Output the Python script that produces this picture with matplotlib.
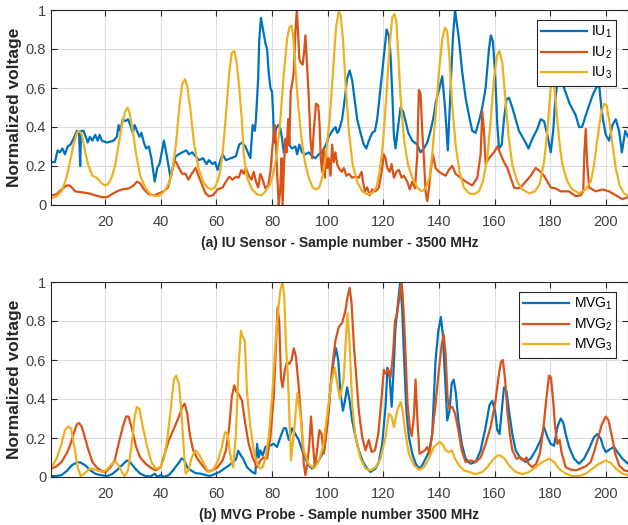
import matplotlib
matplotlib.use("Agg")
import matplotlib.pyplot as plt
from matplotlib import font_manager

# ---------------- data ----------------
iu1_x = [0.7, 1.9, 2.9, 3.7, 4.6, 5.5, 6.5, 7.5, 8.6, 9.8, 10.6, 11.0, 11.3, 12.2, 13.0, 13.7, 14.5, 15.4, 16.4, 17.3, 18.0, 18.8, 20.6, 23.0, 24.2, 24.8, 25.4, 26.3, 27.2, 28.2, 29.0, 29.9, 30.6, 31.4, 32.3, 33.0, 33.9, 34.7, 35.7, 36.6, 37.8, 38.7, 39.5, 40.2, 41.1, 41.9, 42.9, 43.5, 44.3, 45.3, 46.5, 47.7, 49.2, 50.1, 51.3, 52.5, 53.7, 55.2, 56.4, 57.3, 58.6, 59.5, 60.4, 61.2, 62.2, 63.4, 65.2, 67.0, 68.2, 69.2, 70.4, 71.6, 72.2, 73.0, 73.8, 74.2, 75.0, 75.4, 76.0, 76.6, 77.6, 78.2, 78.8, 79.4, 80.0, 80.4, 80.7, 81.4, 82.2, 83.0, 83.6, 84.2, 85.0, 86.0, 87.2, 88.4, 89.0, 89.8, 90.8, 92.0, 93.2, 94.4, 95.6, 96.8, 98.0, 99.4, 100.4, 101.6, 102.8, 103.4, 104.0, 105.2, 106.2, 107.0, 107.9, 108.8, 109.8, 110.6, 111.8, 113.0, 113.9, 114.8, 116.0, 117.0, 117.8, 118.7, 119.6, 120.6, 121.2, 122.0, 122.6, 123.2, 123.8, 124.4, 125.4, 126.2, 127.1, 128.0, 129.0, 130.4, 132.2, 133.4, 134.6, 135.8, 137.0, 138.2, 138.8, 139.4, 140.2, 141.2, 142.2, 143.2, 144.2, 145.0, 145.8, 147.2, 148.4, 149.6, 150.8, 152.0, 153.2, 154.4, 155.6, 156.8, 158.0, 158.7, 159.4, 160.2, 161.0, 161.6, 162.6, 163.4, 164.3, 165.2, 166.4, 167.6, 168.8, 170.0, 171.2, 172.2, 173.6, 175.4, 176.6, 177.8, 179.0, 180.2, 181.1, 181.8, 182.6, 184.0, 185.0, 187.0, 189.2, 190.4, 191.5, 192.8, 195.2, 196.5, 197.6, 198.4, 199.1, 200.0, 201.2, 202.4, 203.6, 204.8, 205.8, 207.0, 208.0]
iu1_y = [0.22, 0.22, 0.28, 0.27, 0.29, 0.26, 0.30, 0.31, 0.34, 0.38, 0.37, 0.20, 0.38, 0.38, 0.35, 0.32, 0.35, 0.33, 0.36, 0.33, 0.36, 0.33, 0.32, 0.33, 0.35, 0.41, 0.38, 0.44, 0.43, 0.44, 0.41, 0.37, 0.41, 0.38, 0.35, 0.37, 0.32, 0.29, 0.30, 0.24, 0.12, 0.19, 0.21, 0.26, 0.33, 0.27, 0.19, 0.14, 0.19, 0.25, 0.26, 0.27, 0.28, 0.26, 0.27, 0.25, 0.23, 0.24, 0.21, 0.23, 0.21, 0.22, 0.18, 0.22, 0.26, 0.23, 0.24, 0.25, 0.31, 0.32, 0.30, 0.26, 0.24, 0.41, 0.38, 0.44, 0.65, 0.85, 0.96, 0.91, 0.83, 0.80, 0.68, 0.60, 0.58, 0.46, 0.32, 0.39, 0.41, 0.39, 0.34, 0.27, 0.32, 0.31, 0.29, 0.30, 0.26, 0.31, 0.27, 0.26, 0.27, 0.25, 0.24, 0.26, 0.27, 0.31, 0.35, 0.38, 0.40, 0.37, 0.38, 0.44, 0.55, 0.65, 0.69, 0.64, 0.53, 0.44, 0.37, 0.31, 0.29, 0.33, 0.37, 0.38, 0.44, 0.56, 0.68, 0.82, 0.90, 0.87, 0.77, 0.58, 0.36, 0.29, 0.41, 0.50, 0.48, 0.43, 0.37, 0.33, 0.31, 0.27, 0.29, 0.32, 0.38, 0.46, 0.52, 0.56, 0.60, 0.66, 0.50, 0.28, 0.60, 0.85, 1.00, 0.85, 0.68, 0.55, 0.46, 0.38, 0.37, 0.43, 0.50, 0.60, 0.80, 0.87, 0.84, 0.68, 0.41, 0.29, 0.31, 0.44, 0.54, 0.55, 0.50, 0.44, 0.38, 0.35, 0.32, 0.29, 0.34, 0.39, 0.44, 0.43, 0.36, 0.27, 0.38, 0.53, 0.63, 0.66, 0.60, 0.52, 0.46, 0.40, 0.40, 0.46, 0.56, 0.60, 0.62, 0.50, 0.43, 0.36, 0.33, 0.41, 0.44, 0.38, 0.27, 0.38, 0.35]

iu2_x = [0.7, 2.5, 4.3, 6.1, 7.3, 9.2, 11.6, 14.0, 16.4, 18.8, 20.6, 22.4, 24.2, 26.0, 28.4, 30.2, 31.4, 32.6, 33.9, 35.7, 37.8, 39.3, 41.1, 42.6, 43.8, 44.7, 45.5, 46.5, 47.7, 48.9, 49.9, 51.1, 52.5, 53.7, 54.9, 56.1, 57.3, 58.8, 60.4, 62.2, 63.4, 64.6, 65.8, 67.0, 68.0, 69.0, 69.8, 70.6, 71.6, 72.6, 73.4, 74.2, 75.0, 75.8, 76.6, 77.6, 78.6, 79.4, 80.2, 81.0, 81.4, 81.9, 82.4, 82.9, 83.4, 83.8, 84.3, 84.8, 85.2, 85.8, 86.2, 86.7, 87.2, 87.8, 88.4, 88.9, 89.4, 89.8, 90.3, 91.0, 91.5, 92.0, 92.6, 93.2, 93.8, 94.4, 95.0, 95.8, 96.6, 97.1, 97.5, 98.0, 98.5, 99.0, 99.4, 99.9, 100.4, 101.0, 101.6, 102.2, 102.8, 103.4, 104.0, 105.0, 105.8, 106.7, 107.6, 108.8, 110.0, 111.2, 112.2, 112.7, 113.4, 114.2, 115.1, 116.0, 117.2, 118.4, 119.4, 120.2, 120.8, 121.4, 122.3, 123.0, 123.8, 124.7, 125.6, 126.6, 127.4, 128.6, 129.5, 130.4, 131.4, 132.2, 132.8, 133.4, 134.0, 134.6, 135.2, 135.8, 136.4, 137.0, 137.8, 138.8, 140.0, 141.2, 142.4, 143.6, 144.8, 146.0, 147.8, 149.6, 152.0, 153.8, 155.0, 155.6, 156.2, 156.8, 158.0, 159.8, 161.0, 162.2, 163.4, 164.6, 165.8, 167.0, 168.2, 169.4, 171.2, 173.0, 174.8, 176.6, 177.8, 179.0, 180.2, 182.0, 183.8, 186.8, 189.2, 191.0, 191.9, 192.3, 192.8, 193.3, 194.0, 196.4, 198.8, 201.2, 203.6, 206.0, 208.0]
iu2_y = [0.05, 0.055, 0.08, 0.10, 0.10, 0.07, 0.065, 0.06, 0.05, 0.04, 0.04, 0.055, 0.07, 0.08, 0.085, 0.10, 0.12, 0.11, 0.08, 0.055, 0.05, 0.06, 0.07, 0.09, 0.16, 0.22, 0.22, 0.19, 0.16, 0.16, 0.13, 0.16, 0.19, 0.145, 0.10, 0.06, 0.045, 0.05, 0.08, 0.09, 0.12, 0.145, 0.13, 0.145, 0.14, 0.18, 0.16, 0.19, 0.15, 0.13, 0.17, 0.12, 0.09, 0.16, 0.13, 0.085, 0.10, 0.17, 0.31, 0.41, 0.31, 0.14, 0.0, 0.07, 0.24, 0.0, 0.21, 0.34, 0.27, 0.44, 0.31, 0.58, 0.62, 0.68, 0.89, 1.0, 0.87, 0.75, 0.73, 0.72, 0.78, 0.87, 0.71, 0.55, 0.34, 0.24, 0.38, 0.52, 0.51, 0.41, 0.24, 0.17, 0.29, 0.14, 0.27, 0.19, 0.24, 0.15, 0.31, 0.22, 0.27, 0.21, 0.19, 0.17, 0.19, 0.15, 0.16, 0.14, 0.145, 0.14, 0.17, 0.12, 0.07, 0.09, 0.05, 0.08, 0.07, 0.09, 0.17, 0.26, 0.24, 0.19, 0.17, 0.21, 0.14, 0.17, 0.18, 0.14, 0.15, 0.12, 0.08, 0.12, 0.085, 0.25, 0.59, 0.57, 0.38, 0.24, 0.07, 0.02, 0.085, 0.17, 0.26, 0.19, 0.17, 0.16, 0.15, 0.18, 0.20, 0.16, 0.14, 0.12, 0.10, 0.14, 0.26, 0.48, 0.38, 0.21, 0.24, 0.27, 0.30, 0.26, 0.22, 0.19, 0.14, 0.09, 0.085, 0.09, 0.12, 0.15, 0.19, 0.17, 0.15, 0.12, 0.09, 0.085, 0.07, 0.07, 0.045, 0.05, 0.07, 0.27, 0.39, 0.22, 0.09, 0.07, 0.08, 0.07, 0.05, 0.03, 0.04]

iu3_x = [0.7, 2.5, 4.3, 6.1, 7.3, 8.6, 9.8, 10.7, 11.6, 12.8, 14.0, 15.4, 17.0, 18.8, 20.0, 21.2, 22.4, 23.6, 24.8, 26.0, 27.2, 28.0, 28.8, 29.9, 31.1, 32.6, 34.5, 36.3, 38.1, 39.9, 41.7, 43.1, 44.3, 45.5, 46.7, 47.7, 48.7, 49.5, 50.7, 51.9, 53.5, 55.2, 56.7, 58.2, 59.5, 61.0, 62.2, 63.4, 64.6, 65.5, 66.4, 67.2, 68.2, 69.2, 69.8, 71.0, 72.8, 74.6, 76.2, 77.6, 79.4, 80.6, 81.8, 83.0, 84.2, 85.4, 86.2, 87.0, 87.6, 88.4, 89.4, 90.6, 91.8, 93.2, 94.6, 95.8, 97.0, 98.2, 99.4, 100.7, 101.9, 103.0, 104.0, 104.7, 105.5, 106.4, 107.6, 109.0, 110.6, 112.4, 114.2, 116.0, 117.5, 118.7, 119.9, 121.1, 122.3, 123.2, 124.0, 124.7, 125.4, 126.2, 127.4, 128.9, 130.4, 132.2, 133.8, 135.2, 136.6, 137.6, 138.8, 140.0, 141.2, 142.2, 143.0, 143.8, 144.8, 146.0, 147.4, 149.0, 150.8, 152.6, 154.4, 155.8, 157.4, 158.6, 159.8, 161.0, 161.8, 162.8, 163.8, 165.0, 166.4, 168.2, 170.0, 172.4, 174.6, 176.3, 177.8, 179.0, 180.2, 181.0, 182.0, 183.2, 184.4, 186.2, 188.0, 190.4, 192.8, 194.6, 195.8, 197.0, 198.2, 199.4, 200.3, 201.2, 202.4, 203.6, 205.0, 206.6, 208.0]
iu3_y = [0.035, 0.045, 0.07, 0.14, 0.22, 0.31, 0.37, 0.38, 0.36, 0.27, 0.20, 0.15, 0.14, 0.11, 0.10, 0.11, 0.145, 0.205, 0.31, 0.41, 0.48, 0.50, 0.47, 0.38, 0.26, 0.15, 0.085, 0.055, 0.045, 0.05, 0.08, 0.12, 0.19, 0.32, 0.51, 0.62, 0.645, 0.61, 0.48, 0.32, 0.19, 0.12, 0.09, 0.08, 0.09, 0.15, 0.26, 0.46, 0.68, 0.78, 0.79, 0.735, 0.60, 0.42, 0.26, 0.14, 0.08, 0.055, 0.05, 0.07, 0.11, 0.17, 0.27, 0.44, 0.67, 0.85, 0.91, 0.92, 0.87, 0.70, 0.51, 0.34, 0.22, 0.14, 0.09, 0.08, 0.09, 0.15, 0.26, 0.44, 0.68, 0.91, 0.995, 0.97, 0.85, 0.63, 0.38, 0.205, 0.12, 0.07, 0.055, 0.06, 0.09, 0.17, 0.32, 0.56, 0.82, 0.96, 0.98, 0.94, 0.77, 0.55, 0.34, 0.205, 0.14, 0.09, 0.07, 0.085, 0.14, 0.26, 0.46, 0.68, 0.85, 0.91, 0.89, 0.75, 0.51, 0.31, 0.17, 0.09, 0.06, 0.055, 0.07, 0.12, 0.24, 0.43, 0.65, 0.77, 0.79, 0.73, 0.56, 0.36, 0.205, 0.12, 0.08, 0.06, 0.07, 0.11, 0.22, 0.38, 0.60, 0.70, 0.53, 0.34, 0.205, 0.12, 0.08, 0.06, 0.08, 0.12, 0.205, 0.34, 0.46, 0.52, 0.51, 0.44, 0.31, 0.19, 0.10, 0.06, 0.045]

mvg1_x = [0.7, 2.5, 4.3, 6.1, 8.0, 9.8, 11.0, 12.8, 14.6, 16.4, 18.2, 20.6, 22.4, 24.2, 26.0, 27.8, 29.0, 30.8, 32.6, 34.5, 36.3, 37.8, 38.7, 39.9, 41.1, 42.9, 44.7, 46.3, 47.5, 48.3, 49.5, 50.7, 52.5, 54.3, 56.1, 57.6, 59.2, 61.0, 62.8, 64.6, 65.8, 67.0, 67.8, 68.8, 69.6, 71.0, 72.8, 74.0, 74.6, 75.2, 75.8, 76.6, 77.6, 79.0, 80.6, 81.8, 83.0, 84.2, 85.0, 86.0, 87.2, 88.4, 89.6, 90.8, 92.0, 93.2, 94.4, 96.2, 97.4, 98.6, 99.8, 101.0, 102.2, 103.0, 103.8, 104.6, 105.5, 106.2, 107.0, 107.9, 108.8, 110.0, 111.2, 112.7, 114.2, 115.4, 117.2, 118.4, 119.6, 120.8, 121.5, 122.3, 123.0, 123.7, 124.4, 125.4, 126.1, 126.8, 127.5, 128.3, 129.2, 130.4, 131.6, 132.8, 134.0, 135.2, 136.4, 137.6, 138.8, 139.8, 140.7, 141.4, 142.2, 143.0, 143.8, 144.6, 145.3, 146.0, 147.0, 148.2, 149.6, 151.4, 153.2, 155.0, 156.8, 158.2, 159.2, 160.2, 161.0, 161.8, 162.6, 163.4, 164.3, 165.2, 166.4, 167.6, 169.4, 171.2, 173.0, 174.8, 176.6, 177.8, 179.0, 180.2, 181.4, 182.6, 183.8, 184.7, 185.6, 186.8, 188.6, 190.4, 192.2, 194.0, 195.8, 197.0, 198.2, 199.1, 200.0, 201.8, 203.0, 204.2, 206.0, 208.0]
mvg1_y = [0.005, 0.005, 0.01, 0.03, 0.06, 0.075, 0.075, 0.06, 0.035, 0.017, 0.01, 0.005, 0.014, 0.035, 0.06, 0.085, 0.075, 0.043, 0.017, 0.005, 0.003, 0.017, 0.0, 0.01, 0.0, 0.01, 0.04, 0.07, 0.095, 0.09, 0.05, 0.035, 0.02, 0.017, 0.01, 0.005, 0.014, 0.025, 0.043, 0.06, 0.075, 0.09, 0.135, 0.11, 0.094, 0.05, 0.026, 0.017, 0.17, 0.10, 0.137, 0.11, 0.154, 0.16, 0.17, 0.154, 0.205, 0.25, 0.25, 0.19, 0.25, 0.22, 0.19, 0.137, 0.094, 0.06, 0.043, 0.07, 0.10, 0.137, 0.27, 0.46, 0.60, 0.66, 0.60, 0.43, 0.34, 0.39, 0.46, 0.39, 0.29, 0.205, 0.137, 0.077, 0.043, 0.026, 0.043, 0.077, 0.17, 0.36, 0.56, 0.51, 0.36, 0.55, 0.77, 0.91, 1.0, 0.855, 0.60, 0.34, 0.205, 0.12, 0.07, 0.043, 0.06, 0.094, 0.128, 0.22, 0.60, 0.75, 0.82, 0.735, 0.51, 0.29, 0.34, 0.48, 0.50, 0.44, 0.29, 0.17, 0.094, 0.068, 0.077, 0.137, 0.256, 0.37, 0.39, 0.34, 0.24, 0.22, 0.34, 0.46, 0.44, 0.34, 0.22, 0.137, 0.094, 0.077, 0.094, 0.137, 0.19, 0.256, 0.205, 0.17, 0.16, 0.256, 0.30, 0.28, 0.22, 0.154, 0.094, 0.068, 0.094, 0.145, 0.205, 0.22, 0.197, 0.154, 0.128, 0.145, 0.154, 0.128, 0.094, 0.068]

mvg2_x = [0.7, 2.5, 4.3, 6.1, 7.3, 8.6, 9.8, 10.6, 11.6, 12.8, 14.0, 15.4, 17.0, 18.8, 20.2, 21.8, 23.4, 24.8, 26.3, 27.5, 28.4, 29.6, 31.1, 32.6, 34.5, 36.3, 38.1, 39.9, 41.4, 42.9, 44.7, 46.5, 47.7, 48.6, 49.5, 50.4, 51.6, 53.1, 54.9, 56.7, 58.6, 60.4, 62.2, 63.4, 64.6, 65.5, 66.4, 67.2, 68.2, 69.2, 70.4, 71.6, 73.0, 74.6, 75.8, 77.0, 78.2, 79.4, 80.6, 81.4, 82.0, 82.6, 83.2, 83.8, 84.6, 85.4, 86.2, 87.0, 87.8, 88.6, 89.6, 90.6, 91.4, 92.0, 92.7, 93.4, 94.0, 94.7, 95.4, 96.2, 97.0, 97.8, 98.6, 99.4, 100.4, 101.6, 102.8, 104.0, 105.2, 106.4, 107.1, 107.9, 108.6, 109.4, 110.3, 111.2, 112.4, 113.6, 114.8, 115.8, 117.0, 118.2, 119.4, 120.2, 120.8, 121.8, 122.6, 123.5, 124.2, 125.0, 125.8, 126.6, 127.3, 128.0, 128.7, 129.5, 130.2, 131.0, 131.6, 132.2, 133.0, 134.0, 135.0, 135.8, 136.6, 137.6, 138.8, 140.0, 141.0, 141.7, 142.4, 143.1, 143.8, 144.8, 145.8, 147.0, 148.2, 149.6, 151.4, 153.2, 155.0, 156.8, 158.6, 160.2, 161.4, 162.3, 163.0, 163.8, 164.6, 165.5, 166.4, 167.9, 169.4, 170.6, 171.5, 172.2, 173.6, 175.0, 176.3, 177.5, 178.7, 179.6, 180.3, 181.1, 181.8, 182.6, 183.4, 184.2, 185.6, 187.4, 189.2, 191.0, 192.8, 194.6, 195.8, 197.0, 198.6, 200.0, 201.0, 202.2, 203.4, 204.8, 206.6, 208.0]
mvg2_y = [0.043, 0.055, 0.077, 0.12, 0.16, 0.22, 0.27, 0.277, 0.256, 0.197, 0.137, 0.077, 0.048, 0.03, 0.026, 0.048, 0.085, 0.17, 0.256, 0.31, 0.31, 0.248, 0.154, 0.10, 0.068, 0.048, 0.034, 0.05, 0.12, 0.19, 0.248, 0.31, 0.36, 0.376, 0.325, 0.22, 0.137, 0.094, 0.06, 0.03, 0.034, 0.05, 0.085, 0.137, 0.256, 0.41, 0.47, 0.436, 0.42, 0.39, 0.27, 0.17, 0.10, 0.05, 0.085, 0.10, 0.094, 0.205, 0.41, 0.68, 0.87, 0.79, 0.51, 0.46, 0.55, 0.59, 0.58, 0.60, 0.66, 0.615, 0.46, 0.27, 0.068, 0.01, 0.068, 0.17, 0.31, 0.17, 0.05, 0.137, 0.24, 0.22, 0.12, 0.205, 0.34, 0.56, 0.70, 0.77, 0.79, 0.855, 0.92, 0.97, 0.89, 0.68, 0.51, 0.34, 0.205, 0.137, 0.19, 0.128, 0.137, 0.22, 0.41, 0.55, 0.53, 0.55, 0.51, 0.63, 0.80, 0.84, 0.92, 1.0, 0.855, 0.63, 0.376, 0.256, 0.21, 0.31, 0.50, 0.31, 0.12, 0.128, 0.137, 0.154, 0.12, 0.22, 0.376, 0.55, 0.68, 0.73, 0.63, 0.41, 0.35, 0.36, 0.325, 0.24, 0.137, 0.077, 0.085, 0.077, 0.10, 0.17, 0.256, 0.376, 0.51, 0.59, 0.60, 0.50, 0.34, 0.22, 0.137, 0.094, 0.10, 0.085, 0.10, 0.068, 0.05, 0.068, 0.12, 0.24, 0.41, 0.52, 0.51, 0.39, 0.256, 0.17, 0.19, 0.12, 0.05, 0.038, 0.034, 0.043, 0.055, 0.077, 0.128, 0.19, 0.27, 0.31, 0.29, 0.21, 0.12, 0.06, 0.034, 0.03]

mvg3_x = [0.7, 2.5, 4.3, 5.5, 6.7, 7.7, 8.9, 10.1, 11.2, 12.5, 14.0, 15.2, 17.0, 18.8, 20.6, 22.4, 23.6, 24.8, 26.0, 27.0, 28.2, 29.4, 30.6, 31.4, 32.3, 33.5, 35.1, 36.6, 38.1, 39.9, 41.1, 42.3, 43.5, 44.7, 45.5, 46.5, 47.5, 48.3, 48.9, 49.9, 51.1, 52.5, 54.0, 55.5, 57.1, 58.6, 60.4, 61.9, 63.1, 64.0, 65.2, 66.0, 67.0, 67.9, 68.8, 69.4, 70.2, 71.0, 72.2, 73.4, 74.6, 75.8, 76.6, 77.6, 78.8, 80.0, 81.2, 82.2, 83.0, 83.8, 84.4, 85.0, 85.8, 86.8, 88.0, 89.1, 90.2, 91.4, 93.0, 95.0, 96.8, 98.4, 100.0, 101.5, 102.6, 103.4, 104.4, 105.8, 106.7, 107.1, 107.9, 108.8, 110.0, 111.8, 113.6, 115.4, 117.2, 119.0, 120.8, 122.0, 123.0, 123.8, 125.0, 126.2, 127.0, 128.0, 129.2, 131.0, 132.8, 134.6, 136.4, 138.2, 139.4, 140.2, 141.2, 142.4, 143.6, 144.6, 145.8, 147.2, 149.0, 150.8, 153.2, 155.6, 157.4, 159.2, 161.0, 162.2, 163.8, 165.5, 167.6, 170.0, 172.4, 174.8, 177.2, 179.6, 181.4, 183.2, 185.6, 188.0, 190.4, 192.8, 195.2, 197.6, 200.0, 201.8, 203.6, 206.0, 208.0]
mvg3_y = [0.05, 0.094, 0.17, 0.24, 0.26, 0.248, 0.154, 0.05, 0.005, 0.017, 0.038, 0.043, 0.034, 0.026, 0.038, 0.068, 0.08, 0.06, 0.026, 0.005, 0.034, 0.154, 0.31, 0.36, 0.35, 0.256, 0.154, 0.077, 0.043, 0.05, 0.094, 0.19, 0.34, 0.50, 0.52, 0.48, 0.31, 0.137, 0.017, 0.034, 0.10, 0.137, 0.11, 0.068, 0.026, 0.034, 0.077, 0.154, 0.23, 0.22, 0.094, 0.05, 0.22, 0.55, 0.75, 0.72, 0.70, 0.43, 0.256, 0.137, 0.068, 0.043, 0.05, 0.094, 0.205, 0.41, 0.68, 0.855, 0.96, 1.0, 0.92, 0.68, 0.48, 0.085, 0.25, 0.43, 0.32, 0.137, 0.07, 0.043, 0.08, 0.16, 0.34, 0.50, 0.56, 0.48, 0.40, 0.51, 0.75, 0.84, 0.68, 0.376, 0.205, 0.094, 0.043, 0.034, 0.05, 0.094, 0.205, 0.325, 0.31, 0.256, 0.34, 0.385, 0.34, 0.22, 0.12, 0.06, 0.038, 0.05, 0.094, 0.154, 0.17, 0.18, 0.17, 0.137, 0.128, 0.137, 0.094, 0.06, 0.034, 0.026, 0.014, 0.026, 0.05, 0.085, 0.11, 0.11, 0.09, 0.055, 0.026, 0.014, 0.026, 0.05, 0.077, 0.094, 0.077, 0.043, 0.017, 0.005, 0.005, 0.017, 0.043, 0.068, 0.085, 0.072, 0.043, 0.017, 0.01]

x_ticks = [20, 40, 60, 80, 100, 120, 140, 160, 180, 200]
y_ticks = [0, 0.2, 0.4, 0.6, 0.8, 1]
y_ticklabels = ["0", "0.2", "0.4", "0.6", "0.8", "1"]
top_labels = ["IU$_1$", "IU$_2$", "IU$_3$"]
bot_labels = ["MVG$_1$", "MVG$_2$", "MVG$_3$"]
top_xlabel = "(a) IU Sensor - Sample number - 3500 MHz"
bot_xlabel = "(b) MVG Probe - Sample number 3500 MHz"
y_label = "Normalized voltage"

# ---------------- style ----------------
avail = {f.name for f in font_manager.fontManager.ttflist}
base_font = "Liberation Sans" if "Liberation Sans" in avail else "DejaVu Sans"
plt.rcParams["font.family"] = [base_font, "DejaVu Sans"]
plt.rcParams["mathtext.fontset"] = "custom"
plt.rcParams["mathtext.rm"] = base_font
plt.rcParams["mathtext.it"] = base_font

colors = ["#0072BD", "#D95319", "#EDB120"]
axis_col = "#262626"

fig = plt.figure(figsize=(6.28, 5.25), dpi=100)
ax1 = fig.add_axes([51 / 628, 1 - 205 / 525, 577 / 628, 195 / 525])
ax2 = fig.add_axes([51 / 628, 1 - 477 / 525, 577 / 628, 195 / 525])


def style(ax, xlabel):
    ax.set_xlim(0.5, 208)
    ax.set_ylim(0, 1)
    ax.set_xticks(x_ticks)
    ax.set_yticks(y_ticks)
    ax.set_yticklabels(y_ticklabels)
    ax.grid(True, color="#dcdcdc", linewidth=0.8)
    ax.set_axisbelow(True)
    ax.tick_params(direction="in", top=True, right=True, length=4, width=0.8,
                   colors=axis_col, labelsize=10.5, labelcolor="#404040")
    ax.tick_params(axis="x", pad=7)
    for s in ax.spines.values():
        s.set_color(axis_col)
        s.set_linewidth(0.8)
    ax.set_xlabel(xlabel, fontsize=10, fontweight="bold", color="#262626",
                  labelpad=5)
    ax.set_ylabel(y_label, fontsize=12.5, fontweight="bold", color="#262626",
                  labelpad=3)


series_top = [(iu1_x, iu1_y), (iu2_x, iu2_y), (iu3_x, iu3_y)]
series_bot = [(mvg1_x, mvg1_y), (mvg2_x, mvg2_y), (mvg3_x, mvg3_y)]

for (xs, ys), c, lab in zip(series_top, colors, top_labels):
    ax1.plot(xs, ys, color=c, linewidth=1.6, label=lab)
for (xs, ys), c, lab in zip(series_bot, colors, bot_labels):
    ax2.plot(xs, ys, color=c, linewidth=1.6, label=lab)

style(ax1, top_xlabel)
style(ax2, bot_xlabel)

for ax in (ax1, ax2):
    leg = ax.legend(loc="upper right", bbox_to_anchor=(0.98, 0.95), fontsize=10,
                    handlelength=3.3, frameon=True, fancybox=False,
                    borderpad=0.3, labelspacing=0.3, handletextpad=0.35,
                    borderaxespad=0.0)
    leg.get_frame().set_edgecolor("#262626")
    leg.get_frame().set_linewidth(0.8)
    leg.get_frame().set_alpha(1.0)

fig.savefig("out.png", dpi=100)
